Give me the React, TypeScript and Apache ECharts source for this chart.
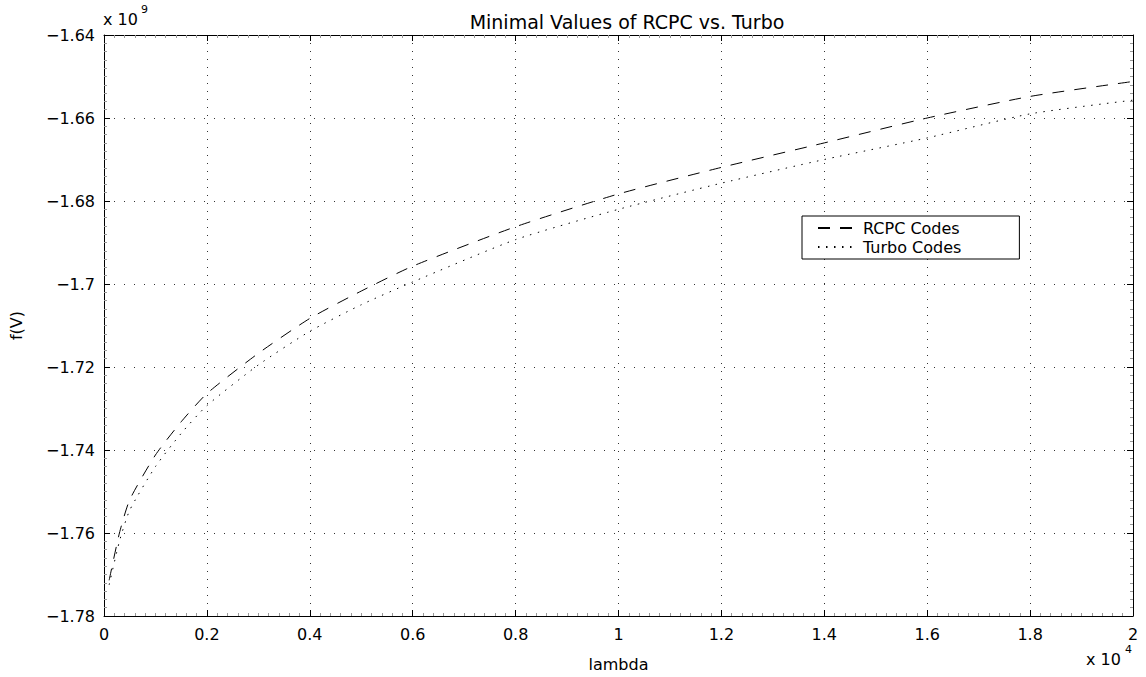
import React, { useEffect, useRef } from "react";
import * as echarts from "echarts";

// lambda in units of 10^4
const lambda = [0.01, 0.03, 0.05, 0.1, 0.15, 0.2, 0.3, 0.4, 0.5, 0.6, 0.8, 1.0, 1.2, 1.4, 1.6, 1.8, 2.0];
// f(V) in units of 10^9
const rcpc = [-1.7714, -1.76, -1.752, -1.7412, -1.7332, -1.7264, -1.7167, -1.7083, -1.7017, -1.6957, -1.6862, -1.6783, -1.6719, -1.666, -1.66, -1.6548, -1.6512];
const turbo = [-1.7725, -1.762, -1.7545, -1.744, -1.736, -1.7293, -1.7195, -1.7114, -1.705, -1.6995, -1.6893, -1.682, -1.6757, -1.67, -1.6648, -1.659, -1.6557];

const seriesNames = ["RCPC Codes", "Turbo Codes"];
const titleText = "Minimal Values of RCPC vs. Turbo";
const xName = "lambda";
const yName = "f(V)";

const FONT = "DejaVu Sans";

const fmt = (v: number) => String(parseFloat(v.toFixed(4))).replace("-", "\u2212");

export default function App() {
  const ref = useRef<HTMLDivElement>(null);
  useEffect(() => {
    if (!ref.current) return;
    const chart = echarts.init(ref.current, undefined, { renderer: "svg" });
    const axisCommon = {
      axisLine: { show: true, onZero: false, lineStyle: { color: "#000", width: 1 } },
      axisTick: { show: true, inside: true, length: 6, lineStyle: { color: "#000" } },
      minorTick: { show: true, splitNumber: 10, length: 3, lineStyle: { color: "#999" } },
    };
    chart.setOption({
      animation: false,
      backgroundColor: "#fff",
      textStyle: { fontFamily: FONT },
      title: {
        text: titleText,
        left: 622,
        textAlign: "center",
        top: 7,
        textStyle: { fontFamily: FONT, fontSize: 19, fontWeight: "normal", color: "#000" },
      },
      grid: { left: 104, right: 13, top: 35, bottom: 55 },
      legend: {
        data: seriesNames,
        orient: "vertical",
        left: 802,
        top: 216,
        padding: [4, 58, 4, 15],
        itemGap: 3,
        itemWidth: 40,
        itemHeight: 14,
        borderColor: "#000",
        borderWidth: 1,
        backgroundColor: "#fff",
        itemStyle: { opacity: 0 },
        textStyle: { fontFamily: FONT, fontSize: 16, color: "#000" },
      },
      xAxis: [
        {
          type: "value",
          min: 0,
          max: 2,
          interval: 0.2,
          name: xName,
          nameLocation: "middle",
          nameGap: 40,
          nameTextStyle: { fontFamily: FONT, fontSize: 16, color: "#000" },
          ...axisCommon,
          axisLabel: { formatter: fmt, margin: 10, fontFamily: FONT, fontSize: 16, color: "#000" },
          splitLine: { show: true, lineStyle: { color: "#333", width: 1, type: [1, 7] } },
        },
        {
          type: "value",
          position: "top",
          min: 0,
          max: 2,
          interval: 0.2,
          ...axisCommon,
          axisLabel: { show: false },
          splitLine: { show: false },
        },
      ],
      yAxis: [
        {
          type: "value",
          min: -1.78,
          max: -1.64,
          interval: 0.02,
          name: yName,
          nameLocation: "middle",
          nameGap: 80,
          nameRotate: 90,
          nameTextStyle: { fontFamily: FONT, fontSize: 16, color: "#000" },
          ...axisCommon,
          axisLabel: { formatter: fmt, margin: 9, fontFamily: FONT, fontSize: 16, color: "#000" },
          splitLine: { show: true, lineStyle: { color: "#333", width: 1, type: [1, 9] } },
        },
        {
          type: "value",
          position: "right",
          min: -1.78,
          max: -1.64,
          interval: 0.02,
          ...axisCommon,
          axisLabel: { show: false },
          splitLine: { show: false },
        },
      ],
      graphic: [
        { type: "text", left: 103, top: 11, style: { text: "x 10", fontFamily: FONT, fontSize: 16, fill: "#000" } },
        { type: "text", left: 141, top: 4, style: { text: "9", fontFamily: FONT, fontSize: 11, fill: "#000" } },
        { type: "text", left: 1086, top: 651, style: { text: "x 10", fontFamily: FONT, fontSize: 16, fill: "#000" } },
        { type: "text", left: 1125, top: 644, style: { text: "4", fontFamily: FONT, fontSize: 11, fill: "#000" } },
      ],
      series: [
        {
          name: seriesNames[0],
          type: "line",
          data: lambda.map((x, i) => [x, rcpc[i]]),
          showSymbol: false,
          symbol: "none",
          smooth: 0.2,
          lineStyle: { color: "#000", width: 1, type: [12, 10] },
          itemStyle: { color: "#000" },
        },
        {
          name: seriesNames[1],
          type: "line",
          data: lambda.map((x, i) => [x, turbo[i]]),
          showSymbol: false,
          symbol: "none",
          smooth: 0.2,
          lineStyle: { color: "#000", width: 1, type: [1.5, 6.5] },
          itemStyle: { color: "#000" },
        },
      ],
    });
    return () => chart.dispose();
  }, []);
  return (
    <div
      ref={ref}
      style={{ position: "fixed", left: 0, top: 0, width: 1146, height: 677, background: "#fff" }}
    />
  );
}
